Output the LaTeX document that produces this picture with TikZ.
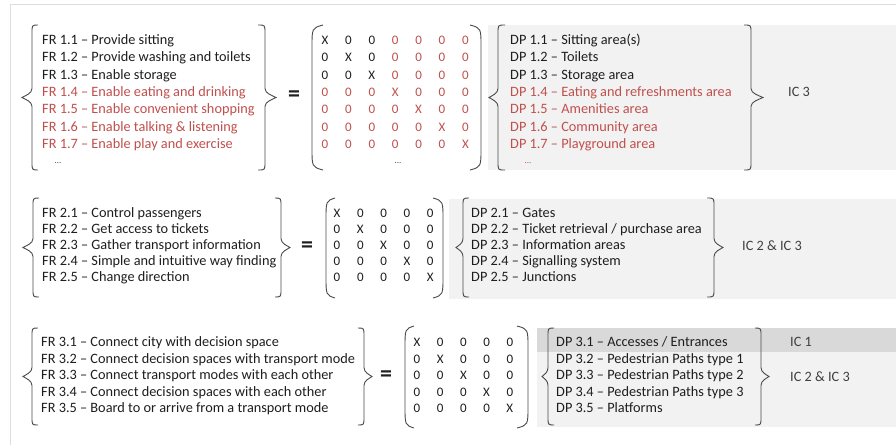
\documentclass[tikz,border=0pt]{standalone}
\usepackage{fontspec}
\setmainfont{Carlito}
\definecolor{txt}{HTML}{1E1E1E}
\definecolor{redt}{HTML}{C0504D}
\definecolor{brcol}{HTML}{4A4A4A}
\definecolor{boxg}{HTML}{F2F2F2}
\definecolor{boxd}{HTML}{D9D9D9}
\definecolor{framec}{HTML}{DDDDDD}
\newcommand\mycurly[5]{%
\draw[brc] (#1,#4) .. controls (#2,#4) .. (#2,{#4+8}) -- (#2,{(#4+#5)/2-9}) .. controls (#2,{(#4+#5)/2-4}) and ({#3+(#2-#3)*0.35},{(#4+#5)/2-2}) .. (#3,{(#4+#5)/2}) .. controls ({#3+(#2-#3)*0.35},{(#4+#5)/2+2}) and (#2,{(#4+#5)/2+4}) .. (#2,{(#4+#5)/2+9}) -- (#2,{#5-8}) .. controls (#2,#5) .. (#1,#5);}
\newcommand\myparen[4]{%
\draw[brc] (#1,#3) .. controls (#2,{#3+3}) .. (#2,{#3+22}) -- (#2,{#4-22}) .. controls (#2,{#4-3}) .. (#1,#4);}
\begin{document}
\begin{tikzpicture}[x=1pt,y=-1pt,
  brc/.style={draw=brcol,line width=0.9pt},
  lbl/.style={anchor=base west,inner sep=0pt,text=txt,font=\fontsize{14.3}{16}\selectfont},
  rlbl/.style={lbl,text=redt},
  mx/.style={anchor=base,inner sep=0pt,font=\fontsize{13}{15}\selectfont},
  eqs/.style={inner sep=0pt,text=txt,font=\bfseries\fontsize{24}{24}\selectfont},
  dots/.style={inner sep=0pt,text=brcol,font=\fontsize{9}{10}\selectfont},
  ic/.style={anchor=west,inner sep=0pt,text=txt!85,font=\fontsize{14.3}{16}\selectfont}]
\useasboundingbox (0,0) rectangle (896,445);
\fill[white] (0,0) rectangle (896,445);
\draw[framec,line width=0.8pt] (10,445) -- (10,4) -- (896,4);
% grey boxes
\fill[boxg] (488,25) rectangle (896,170);
\fill[boxg] (449,199) rectangle (896,299);
\fill[boxg] (537,328) rectangle (896,427);
\fill[boxd] (537,328) rectangle (896,352);
% ---------- section 1 ----------
\mycurly{38}{32}{22}{25}{170}
\mycurly{258}{265}{276}{25}{170}
\node[lbl]  (fr11) at (42,44.6) {FR 1.1 – Provide sitting};
\node[lbl]  (fr12) at (42,61.9) {FR 1.2 – Provide washing and toilets};
\node[lbl]  (fr13) at (42,79.2) {FR 1.3 – Enable storage};
\node[rlbl] (fr14) at (42,96.5) {FR 1.4 – Enable eating and drinking};
\node[rlbl] (fr15) at (42,113.8) {FR 1.5 – Enable convenient shopping};
\node[rlbl] (fr16) at (42,131.1) {FR 1.6 – Enable talking \& listening};
\node[rlbl] (fr17) at (42,148.4) {FR 1.7 – Enable play and exercise};
\node[dots] (fr1d) at (58,163) {...};
\node[eqs] (eq1) at (294,96) {=};
\myparen{323}{312}{25}{170}
\myparen{470}{481}{25}{170}
\foreach \r in {1,...,7}{
  \foreach \c in {1,...,7}{
    \pgfmathsetmacro\cx{325+23.4*(\c-1)}
    \pgfmathsetmacro\ry{44.6+17.3*(\r-1)}
    \pgfmathtruncatemacro\blk{and(\r<4,\c<4)}
    \ifnum\blk=1 \def\mc{txt}\else\def\mc{redt}\fi
    \ifnum\r=\c \def\mt{X}\else\def\mt{0}\fi
    \node[mx,text=\mc] (ma-\r-\c) at (\cx,\ry) {\mt};
  }
}
\node[dots] (ma-d) at (398,163) {...};
\mycurly{505}{498}{489}{25}{170}
\mycurly{744}{751}{763}{25}{170}
\node[lbl]  (dp11) at (510,44.6) {DP 1.1 – Sitting area(s)};
\node[lbl]  (dp12) at (510,61.9) {DP 1.2 – Toilets};
\node[lbl]  (dp13) at (510,79.2) {DP 1.3 – Storage area};
\node[rlbl] (dp14) at (510,96.5) {DP 1.4 – Eating and refreshments area};
\node[rlbl] (dp15) at (510,113.8) {DP 1.5 – Amenities area};
\node[rlbl] (dp16) at (510,131.1) {DP 1.6 – Community area};
\node[rlbl] (dp17) at (510,148.4) {DP 1.7 – Playground area};
\node[dots,text=redt] (dp1d) at (528,163) {...};
\node[ic] (ic1) at (788,92) {IC 3};
% ---------- section 2 ----------
\mycurly{39}{33}{23}{198}{297}
\mycurly{275}{281}{290}{198}{297}
\node[lbl] (fr21) at (42,217.6) {FR 2.1 – Control passengers};
\node[lbl] (fr22) at (42,233.6) {FR 2.2 – Get access to tickets};
\node[lbl] (fr23) at (42,249.6) {FR 2.3 – Gather transport information};
\node[lbl] (fr24) at (42,265.6) {FR 2.4 – Simple and intuitive way finding};
\node[lbl] (fr25) at (42,281.6) {FR 2.5 – Change direction};
\node[eqs] (eq2) at (307,247) {=};
\myparen{335}{326}{198}{298}
\myparen{433}{443}{198}{298}
\foreach \r in {1,...,5}{
  \foreach \c in {1,...,5}{
    \pgfmathsetmacro\cx{337+23.3*(\c-1)}
    \pgfmathsetmacro\ry{217.6+16*(\r-1)}
    \ifnum\r=\c \def\mt{X}\else\def\mt{0}\fi
    \node[mx,text=txt] (mb-\r-\c) at (\cx,\ry) {\mt};
  }
}
\mycurly{469}{463}{456}{198}{297}
\mycurly{707}{714}{723}{198}{297}
\node[lbl] (dp21) at (471,217.6) {DP 2.1 – Gates};
\node[lbl] (dp22) at (471,233.6) {DP 2.2 – Ticket retrieval / purchase area};
\node[lbl] (dp23) at (471,249.6) {DP 2.3 – Information areas};
\node[lbl] (dp24) at (471,265.6) {DP 2.4 – Signalling system};
\node[lbl] (dp25) at (471,281.6) {DP 2.5 – Junctions};
\node[ic] (ic2) at (742,246) {IC 2 \& IC 3};
% ---------- section 3 ----------
\mycurly{38}{32}{23}{328}{425}
\mycurly{358}{364}{372}{328}{425}
\node[lbl] (fr31) at (41,346.6) {FR 3.1 – Connect city with decision space};
\node[lbl] (fr32) at (41,363.1) {FR 3.2 – Connect decision spaces with transport mode};
\node[lbl] (fr33) at (41,379.6) {FR 3.3 – Connect transport modes with each other};
\node[lbl] (fr34) at (41,396.1) {FR 3.4 – Connect decision spaces with each other};
\node[lbl] (fr35) at (41,412.6) {FR 3.5 – Board to or arrive from a transport mode};
\node[eqs] (eq3) at (386,376) {=};
\myparen{414}{405}{326}{428}
\myparen{517}{528}{326}{428}
\foreach \r in {1,...,5}{
  \foreach \c in {1,...,5}{
    \pgfmathsetmacro\cx{417+23.2*(\c-1)}
    \pgfmathsetmacro\ry{346.6+16.5*(\r-1)}
    \ifnum\r=\c \def\mt{X}\else\def\mt{0}\fi
    \node[mx,text=txt] (mc-\r-\c) at (\cx,\ry) {\mt};
  }
}
\mycurly{554}{548}{542}{328}{425}
\mycurly{755}{761}{769}{328}{425}
\node[lbl] (dp31) at (556,346.6) {DP 3.1 – Accesses / Entrances};
\node[lbl] (dp32) at (556,363.1) {DP 3.2 – Pedestrian Paths type 1};
\node[lbl] (dp33) at (556,379.6) {DP 3.3 – Pedestrian Paths type 2};
\node[lbl] (dp34) at (556,396.1) {DP 3.4 – Pedestrian Paths type 3};
\node[lbl] (dp35) at (556,412.6) {DP 3.5 – Platforms};
\node[ic] (ic31) at (790,342) {IC 1};
\node[ic] (ic32) at (790,377) {IC 2 \& IC 3};
\end{tikzpicture}
\end{document}
